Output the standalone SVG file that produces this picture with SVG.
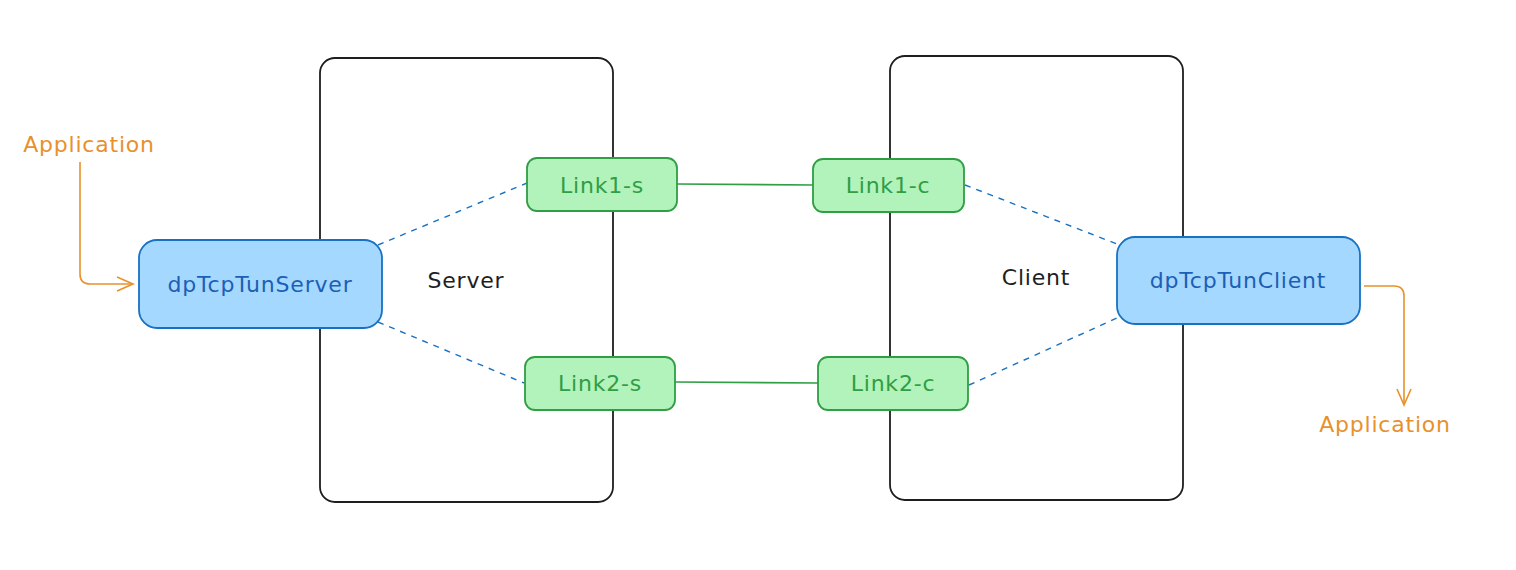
<svg xmlns="http://www.w3.org/2000/svg" width="1516" height="570" viewBox="0 0 1516 570">
<defs>
<style>
.host{fill:#ffffff;stroke:#1e1e1e;stroke-width:1.8}
.tun{fill:#a5d8ff;stroke:#1971c2;stroke-width:1.8}
.link{fill:#b2f2bb;stroke:#2f9e44;stroke-width:1.8}
.t{font-family:"DejaVu Sans","Liberation Sans",sans-serif;font-size:22px;letter-spacing:0.8px;text-anchor:middle;dominant-baseline:central}
.tb{fill:#1c5fb5}
.tg{fill:#2f9e44}
.tk{fill:#1e1e1e}
.to{fill:#e8912b}
.dash{fill:none;stroke:#1971c2;stroke-width:1.4;stroke-dasharray:6 6}
.solid{fill:none;stroke:#2f9e44;stroke-width:1.6}
.app{fill:none;stroke:#e8912b;stroke-width:1.6}
</style>
<marker id="ah" viewBox="0 0 20 20" refX="18" refY="10" markerWidth="20" markerHeight="20" markerUnits="userSpaceOnUse" orient="auto">
<path d="M2,3 L18,10 L2,17" fill="none" stroke="#e8912b" stroke-width="1.6"/>
</marker>
</defs>
<rect width="1516" height="570" fill="#ffffff"/>
<g id="server-host">
<rect class="host" x="320" y="58" width="293" height="444" rx="15"/>
<text class="t tk" x="466" y="280">Server</text>
</g>
<g id="client-host">
<rect class="host" x="890" y="56" width="293" height="444" rx="15"/>
<text class="t tk" x="1036" y="277">Client</text>
</g>
<g id="connectors">
<line class="dash" x1="378" y1="245" x2="527" y2="183"/>
<line class="dash" x1="378" y1="322" x2="524" y2="383"/>
<line class="dash" x1="965" y1="185" x2="1117" y2="244"/>
<line class="dash" x1="969" y1="385" x2="1117" y2="318"/>
<line class="solid" x1="677" y1="184" x2="813" y2="185"/>
<line class="solid" x1="675" y1="382" x2="818" y2="383"/>
<path class="app" d="M80,162 L80,274 Q80,284 90,284 L133,284" marker-end="url(#ah)"/>
<path class="app" d="M1364,286 L1394,286 Q1404,286 1404,296 L1404,405" marker-end="url(#ah)"/>
</g>
<g id="dpTcpTunServer">
<rect class="tun" x="139" y="240" width="243" height="88" rx="18"/>
<text class="t tb" x="260" y="284">dpTcpTunServer</text>
</g>
<g id="dpTcpTunClient">
<rect class="tun" x="1117" y="237" width="243" height="87" rx="18"/>
<text class="t tb" x="1238" y="280">dpTcpTunClient</text>
</g>
<g id="link1-s">
<rect class="link" x="527" y="158" width="150" height="53" rx="10"/>
<text class="t tg" x="602" y="185">Link1-s</text>
</g>
<g id="link2-s">
<rect class="link" x="525" y="357" width="150" height="53" rx="10"/>
<text class="t tg" x="600" y="383">Link2-s</text>
</g>
<g id="link1-c">
<rect class="link" x="813" y="159" width="151" height="53" rx="10"/>
<text class="t tg" x="888" y="185">Link1-c</text>
</g>
<g id="link2-c">
<rect class="link" x="818" y="357" width="150" height="53" rx="10"/>
<text class="t tg" x="893" y="383">Link2-c</text>
</g>
<g id="app-in">
<text class="t to" x="89" y="144">Application</text>
</g>
<g id="app-out">
<text class="t to" x="1385" y="424">Application</text>
</g>
</svg>
